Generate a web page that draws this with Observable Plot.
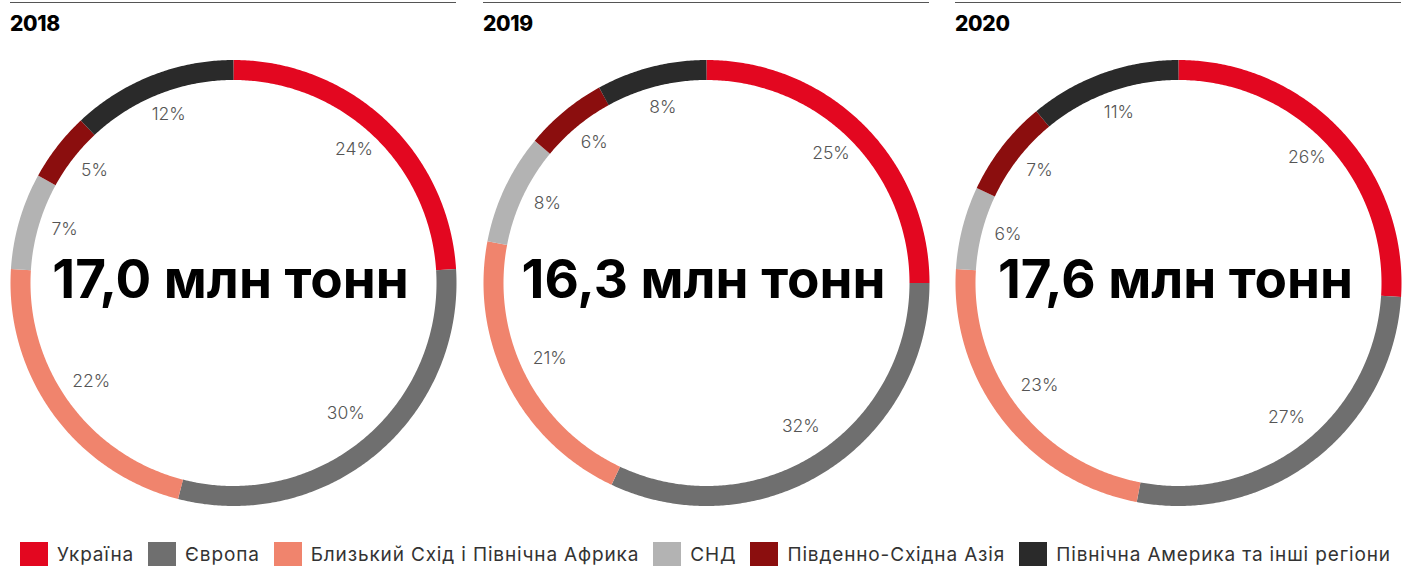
<!DOCTYPE html>
<html>
<head>
<meta charset="utf-8">
<script src="https://cdn.jsdelivr.net/npm/d3@7"></script>
<script src="https://cdn.jsdelivr.net/npm/@observablehq/plot@0.6"></script>
<style>
  html, body { margin: 0; padding: 0; background: #fff; }
  body { width: 1402px; height: 567px; position: relative; overflow: hidden; font-family: "Inter", "Open Sans", sans-serif; }
  .panel { position: absolute; top: 2px; width: 446px; height: 520px; border-top: 1.5px solid #555; }
  .title { position: absolute; left: 0; top: 8px; font-size: 21px; font-weight: 800; color: #000; letter-spacing: -0.3px; }
  .panel svg { position: absolute; left: 0; top: 46.5px; overflow: visible; }
  .legend { position: absolute; left: 20px; width: 1371px; top: 541px; height: 26px; display: flex; justify-content: space-between; align-items: center; }
  .item { display: flex; align-items: center; font-size: 19px; letter-spacing: 0.85px; color: #333; white-space: nowrap; }
  .sw { width: 28px; height: 24px; margin-right: 9px; }
</style>
</head>
<body>
<div id="root"></div>
<script>
const regions = ["Україна", "Європа", "Близький Схід і Північна Африка", "СНД", "Південно-Східна Азія", "Північна Америка та інші регіони"];
const colors = ["#e30720", "#6f6f6f", "#f0846d", "#b3b3b3", "#8b0e0e", "#2a2a2a"];
const years = ["2018", "2019", "2020"];
const totals = ["17,0 млн тонн", "16,3 млн тонн", "17,6 млн тонн"];
const shares2018 = [24, 30, 22, 7, 5, 12];
const shares2019 = [25, 32, 21, 8, 6, 8];
const shares2020 = [26, 27, 23, 6, 7, 11];
const shares = [shares2018, shares2019, shares2020];
const panelLeft = [10, 483, 955];

const W = 446, H = 465;
const ringR = 213 / 223;   // middle of ring in x-units (1 unit = half width)
const labelR = 176 / 223;
const yMax = (H / 2) / (W / 2);

function arcData(vals) {
  const total = d3.sum(vals);
  const pts = [];
  const labels = [];
  let acc = 0;
  vals.forEach((v, i) => {
    const a0 = acc / total * 2 * Math.PI;
    const a1 = (acc + v) / total * 2 * Math.PI;
    const n = Math.max(2, Math.ceil((a1 - a0) / (Math.PI / 360)));
    for (let k = 0; k <= n; k++) {
      const a = a0 + (a1 - a0) * k / n;
      pts.push({region: regions[i], x: ringR * Math.sin(a), y: ringR * Math.cos(a)});
    }
    const am = (a0 + a1) / 2;
    labels.push({text: v + "%", x: labelR * Math.sin(am), y: labelR * Math.cos(am)});
    acc += v;
  });
  return {pts, labels};
}

const root = document.getElementById("root");
years.forEach((yr, idx) => {
  const panel = document.createElement("div");
  panel.className = "panel";
  panel.style.left = panelLeft[idx] + "px";
  const t = document.createElement("div");
  t.className = "title";
  t.textContent = yr;
  panel.appendChild(t);
  const {pts, labels} = arcData(shares[idx]);
  const chart = Plot.plot({
    width: W, height: H, margin: 0,
    x: {domain: [-1, 1], axis: null},
    y: {domain: [-yMax, yMax], axis: null},
    color: {domain: regions, range: colors},
    style: {background: "transparent"},
    marks: [
      Plot.line(pts, {x: "x", y: "y", z: "region", stroke: "region", strokeWidth: 20, strokeLinecap: "butt", strokeLinejoin: "round", curve: "linear"}),
      Plot.text(labels, {x: "x", y: "y", text: "text", dy: -5, fontSize: 17.5, fontWeight: 300, fill: "#555", fontFamily: "Inter, 'Open Sans', sans-serif"}),
      Plot.text([totals[idx]], {x: () => 0, y: () => 0, text: d => d, fontSize: 53, fontWeight: 700, fill: "#000", dy: -2, dx: -3, fontFamily: "Inter, 'Open Sans', sans-serif"})
    ]
  });
  panel.appendChild(chart);
  root.appendChild(panel);
});

const legend = document.createElement("div");
legend.className = "legend";
regions.forEach((r, i) => {
  const it = document.createElement("div");
  it.className = "item";
  const sw = document.createElement("span");
  sw.className = "sw";
  sw.style.background = colors[i];
  const tx = document.createElement("span");
  tx.textContent = r;
  it.appendChild(sw);
  it.appendChild(tx);
  legend.appendChild(it);
});
root.appendChild(legend);
</script>
</body>
</html>
